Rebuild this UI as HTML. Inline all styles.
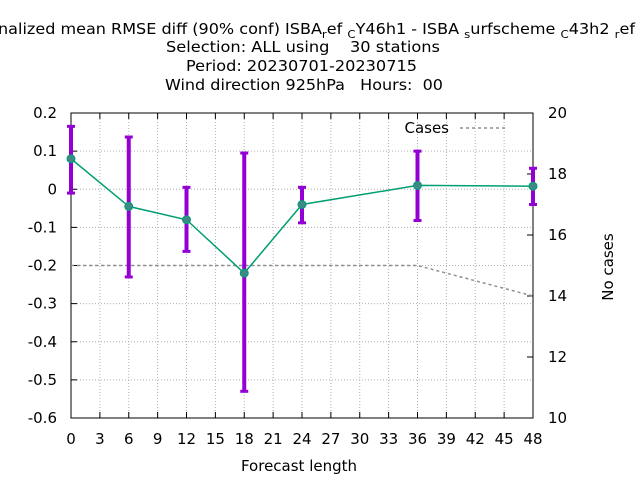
<!DOCTYPE html>
<html><head><meta charset="utf-8"><style>
body{margin:0;background:#fff}
svg{display:block;font-family:"DejaVu Sans","Liberation Sans",sans-serif}
</style></head><body>
<svg id="chart" width="640" height="480" xmlns="http://www.w3.org/2000/svg">
<g font-size="15" fill="#000">
<text x="-2" y="34" textLength="637" lengthAdjust="spacingAndGlyphs">nalized mean RMSE diff (90% conf) ISBA<tspan font-size="11" dy="4">r</tspan><tspan dy="-4">ef </tspan><tspan font-size="11" dy="4">C</tspan><tspan dy="-4">Y46h1 - ISBA </tspan><tspan font-size="11" dy="4">s</tspan><tspan dy="-4">urfscheme </tspan><tspan font-size="11" dy="4">C</tspan><tspan dy="-4">43h2 </tspan><tspan font-size="11" dy="4">r</tspan><tspan dy="-4">ef</tspan></text>
<text x="166" y="52" textLength="274" lengthAdjust="spacingAndGlyphs" xml:space="preserve">Selection: ALL using    30 stations</text>
<text x="186" y="71" textLength="231" lengthAdjust="spacingAndGlyphs">Period: 20230701-20230715</text>
<text x="165" y="90" textLength="278" lengthAdjust="spacingAndGlyphs" xml:space="preserve">Wind direction 925hPa   Hours:  00</text>
</g>
<g id="grid"></g>
<g id="axes"></g>
<g id="series"></g>
<text x="299" y="471" font-size="15" text-anchor="middle">Forecast length</text>
<text x="613" y="267" font-size="15" text-anchor="middle" transform="rotate(-90 613 267)">No cases</text>
<g>
<text x="449" y="133" font-size="15" text-anchor="end">Cases</text>
<line x1="460" y1="128" x2="506" y2="128" stroke="#909090" stroke-width="1.5" stroke-dasharray="3,3"/>
</g>
</svg>
<script>
const xTicks=[0,3,6,9,12,15,18,21,24,27,30,33,36,39,42,45,48];
const yTicks=[0.2,0.1,0,-0.1,-0.2,-0.3,-0.4,-0.5,-0.6];
const y2Ticks=[10,12,14,16,18,20];
const leadTimes=[0,6,12,18,24,36,48];
const meanDiff=[0.08,-0.045,-0.08,-0.22,-0.04,0.01,0.008];
const errLow=[-0.01,-0.23,-0.163,-0.53,-0.088,-0.082,-0.04];
const errHigh=[0.165,0.137,0.005,0.095,0.005,0.1,0.055];
const cases=[15,15,15,15,15,15,14];
const L=71,R=533,T=113,B=418;
const X=v=>L+(v-0)/(48-0)*(R-L);
const Y=v=>B-(v+0.6)/0.8*(B-T);
const Y2=v=>B-(v-10)/10*(B-T);
const NS="http://www.w3.org/2000/svg";
function mk(parent,tag,attrs){const e=document.createElementNS(NS,tag);for(const k in attrs)e.setAttribute(k,attrs[k]);document.getElementById(parent).appendChild(e);return e;}
xTicks.forEach(t=>{
 const g=mk('grid','line',{x1:X(t),x2:X(t),y1:T,y2:B,stroke:'#b0b0b0','stroke-dasharray':'1,2','stroke-width':1});
 
 
 const tk=mk('axes','text',{x:X(t),y:444,'font-size':15,'text-anchor':'middle'});tk.textContent=t;
 
 
 mk('axes','line',{x1:X(t),x2:X(t),y1:B,y2:B-6,stroke:'#000'});
 mk('axes','line',{x1:X(t),x2:X(t),y1:T,y2:T+6,stroke:'#000'});
});
yTicks.forEach(t=>{
 const g=mk('grid','line',{x1:L,x2:R,y1:Y(t),y2:Y(t),stroke:'#b0b0b0','stroke-dasharray':'1,2','stroke-width':1});
 
 
 const tk=mk('axes','text',{x:57,y:Y(t)+5,'font-size':15,'text-anchor':'end'});tk.textContent=(t===0?'0':t.toFixed(1));
 
 
 mk('axes','line',{x1:L,x2:L+6,y1:Y(t),y2:Y(t),stroke:'#000'});
});
y2Ticks.forEach(t=>{
 const tk=mk('axes','text',{x:548,y:Y2(t)+5,'font-size':15});tk.textContent=t;
 
 
 mk('axes','line',{x1:R,x2:R-6,y1:Y2(t),y2:Y2(t),stroke:'#000'});
});
const fr=mk('axes','rect',{x:L,y:T,width:R-L,height:B-T,fill:'none',stroke:'#000'});


const cl=mk('series','polyline',{points:leadTimes.map((x,i)=>X(x)+','+Y2(cases[i])).join(' '),fill:'none',stroke:'#909090','stroke-width':1.5,'stroke-dasharray':'3,3'});


leadTimes.forEach((x,i)=>{
 const e=mk('series','line',{x1:X(x),x2:X(x),y1:Y(errLow[i]),y2:Y(errHigh[i]),stroke:'#9400d3','stroke-width':4});
 
 
 mk('series','line',{x1:X(x)-4,x2:X(x)+4,y1:Y(errLow[i]),y2:Y(errLow[i]),stroke:'#9400d3','stroke-width':3});
 mk('series','line',{x1:X(x)-4,x2:X(x)+4,y1:Y(errHigh[i]),y2:Y(errHigh[i]),stroke:'#9400d3','stroke-width':3});
});
const ml=mk('series','polyline',{points:leadTimes.map((x,i)=>X(x)+','+Y(meanDiff[i])).join(' '),fill:'none',stroke:'#009e73','stroke-width':1.5});


leadTimes.forEach((x,i)=>{
 const p=mk('series','circle',{cx:X(x),cy:Y(meanDiff[i]),r:4,fill:'#3d8a86',stroke:'#009e73','stroke-width':1});
 
 
});
</script>
</body></html>
